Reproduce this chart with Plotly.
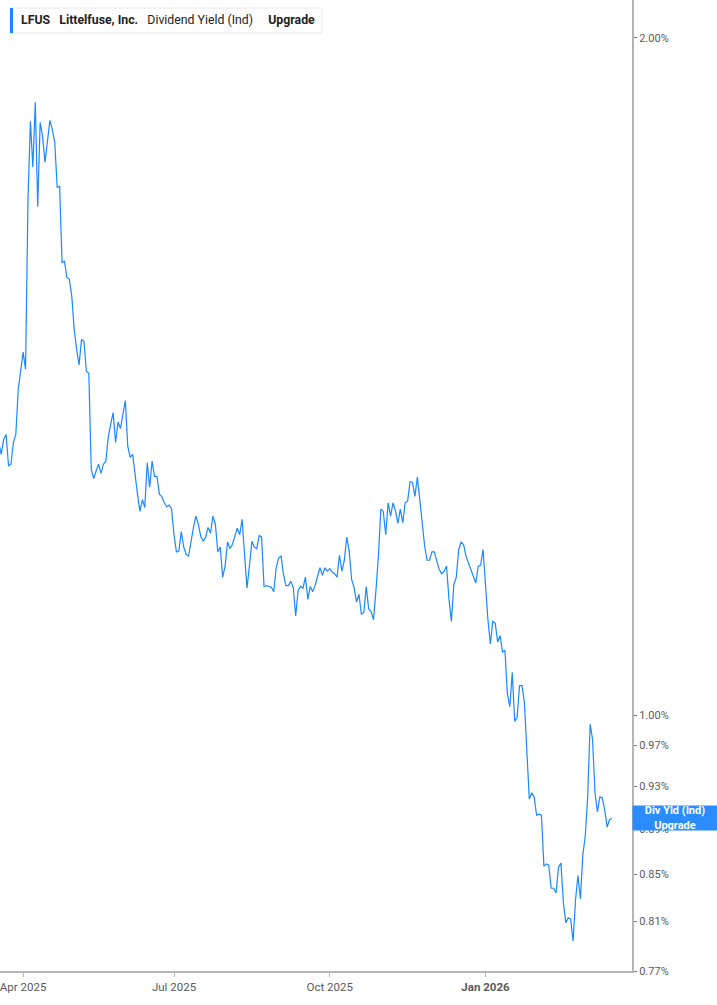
import pandas as pd
import numpy as np
import plotly.graph_objects as go

# ---- data -------------------------------------------------------------
START_DATE = "2025-03-18"
END_DATE = "2026-03-19"
HOLIDAYS = ["2025-04-18", "2025-05-26", "2025-06-19", "2025-07-04", "2025-09-01",
            "2025-11-27", "2025-12-25", "2026-01-01", "2026-01-19", "2026-02-16"]

# LFUS dividend yield (indicated), percent, one value per trading day
yield_pct = [
    # Mar 2025
    1.322, 1.306, 1.326, 1.333, 1.291, 1.293, 1.322, 1.333, 1.396, 1.425,
    # Apr 1 ->
    1.450, 1.425, 1.695, 1.836, 1.752, 1.872, 1.683, 1.834, 1.808, 1.761,
    1.803, 1.838, 1.821, 1.797, 1.716, 1.718, 1.589, 1.591, 1.565, 1.562,
    1.535, 1.484, 1.454, 1.431, 1.469, 1.466, 1.422, 1.419, 1.286, 1.274,
    1.284, 1.293, 1.281, 1.293, 1.297, 1.330, 1.347, 1.363, 1.322, 1.350,
    1.341, 1.361, 1.380, 1.317, 1.302, 1.306, 1.277, 1.254, 1.232, 1.247,
    1.237, 1.295, 1.263, 1.297, 1.277, 1.277, 1.254, 1.251, 1.243, 1.238,
    1.240, 1.235, 1.203,
    # Jul 2 ->
    1.182, 1.183, 1.207, 1.188, 1.179, 1.177, 1.197, 1.212, 1.226, 1.216,
    1.201, 1.195, 1.200, 1.212, 1.205, 1.226, 1.216, 1.182, 1.188, 1.152,
    1.165, 1.194, 1.186, 1.191, 1.201, 1.211, 1.203, 1.222, 1.179, 1.139,
    1.165, 1.195, 1.188, 1.186, 1.202, 1.200, 1.141, 1.142, 1.141, 1.140,
    1.135, 1.163, 1.175, 1.177, 1.155, 1.142, 1.142, 1.147, 1.140, 1.107,
    1.136, 1.141, 1.139, 1.152, 1.126, 1.141, 1.135, 1.142, 1.153, 1.163,
    1.154, 1.163, 1.159, 1.162,
    # Oct 2 ->
    1.158, 1.156, 1.152, 1.178, 1.159, 1.172, 1.200, 1.183, 1.149, 1.140,
    1.123, 1.132, 1.109, 1.111, 1.141, 1.115, 1.112, 1.103, 1.137, 1.177,
    1.235, 1.232, 1.203, 1.243, 1.226, 1.243, 1.233, 1.217, 1.235, 1.218,
    1.243, 1.245, 1.270, 1.269, 1.251, 1.276, 1.247, 1.218, 1.189, 1.172,
    1.172, 1.182, 1.182, 1.171, 1.161, 1.156, 1.159, 1.165, 1.126, 1.101,
    1.143, 1.152, 1.185, 1.194, 1.191, 1.177, 1.169, 1.159, 1.152, 1.145,
    1.165, 1.166, 1.185, 1.140,
    # Jan 5 2026 ->
    1.103, 1.076, 1.101, 1.099, 1.078, 1.085, 1.067, 1.069, 1.022, 1.009,
    1.045, 0.994, 0.998, 1.031, 1.031, 1.013, 0.961, 0.918, 0.924, 0.920,
    0.903, 0.904, 0.903, 0.857, 0.859, 0.858, 0.838, 0.838, 0.834, 0.856,
    0.860, 0.826, 0.809, 0.813, 0.812, 0.794, 0.828, 0.849, 0.829, 0.867,
    0.884, 0.920, 0.991, 0.976, 0.924, 0.906, 0.920, 0.919, 0.908, 0.892,
    0.899, 0.900,
]

TICK_DATES = ["2025-04-01", "2025-07-01", "2025-10-01", "2026-01-02"]
TICK_TEXT = ["Apr 2025", "Jul 2025", "Oct 2025", "<b>Jan 2026</b>"]
Y_TICKS = [0.77, 0.81, 0.85, 0.89, 0.93, 0.97, 1.00, 2.00]

dates = pd.bdate_range(START_DATE, END_DATE, freq="C", holidays=HOLIDAYS)
n = min(len(dates), len(yield_pct))
dates = dates[:n]
vals = yield_pct[:n]

LINE = "#1a88ff"
AXIS = "#b4b4b4"
TXT = "#5a5a5a"
FONT = "Roboto, Inter, sans-serif"

fig = go.Figure()
fig.add_trace(go.Scatter(
    x=dates, y=vals, mode="lines",
    line=dict(color=LINE, width=1.2),
    hoverinfo="x+y", showlegend=False,
))

fig.update_layout(
    width=717, height=1005,
    margin=dict(l=0, r=85, t=0, b=34),
    paper_bgcolor="white", plot_bgcolor="white",
    font=dict(family=FONT, size=11, color=TXT),
    showlegend=False,
)

fig.update_xaxes(
    type="date",
    range=["2025-03-18 12:00", "2026-03-31 05:00"],
    rangebreaks=[dict(bounds=["sat", "mon"]), dict(values=HOLIDAYS)],
    tickvals=TICK_DATES, ticktext=TICK_TEXT,
    ticks="outside", ticklen=4, tickcolor=AXIS, tickwidth=1,
    ticklabeloverflow="allow",
    showline=True, linecolor=AXIS, linewidth=2,
    showgrid=False, zeroline=False,
    tickfont=dict(size=11.5, color=TXT, family=FONT),
)

fig.update_yaxes(
    type="log", side="right",
    range=[np.log10(0.77), np.log10(2.0786)],
    tickvals=Y_TICKS, ticktext=[f"{v:.2f}%" for v in Y_TICKS],
    ticks="outside", ticklen=3, tickcolor="#777777", tickwidth=1,
    showline=True, linecolor=AXIS, linewidth=2,
    showgrid=False, zeroline=False,
    tickfont=dict(size=11, color=TXT, family=FONT),
)

# legend-like header box
fig.add_shape(
    type="rect", xref="paper", yref="paper",
    x0=10 / 632, x1=322 / 632, y0=1 - 33 / 971, y1=1 - 8 / 971,
    fillcolor="white", line=dict(color="#e6e6e6", width=1), layer="above",
)
fig.add_shape(
    type="rect", xref="paper", yref="paper",
    x0=10 / 632, x1=13 / 632, y0=1 - 33 / 971, y1=1 - 8 / 971,
    fillcolor=LINE, line=dict(width=0), layer="above",
)
fig.add_annotation(
    xref="paper", yref="paper", x=19 / 632, y=1 - 20.5 / 971,
    xanchor="left", yanchor="middle", showarrow=False, align="left",
    text="<b>LFUS</b>   <b>Littelfuse, Inc.</b>   Dividend Yield (Ind)     <b>Upgrade</b>",
    font=dict(size=12.3, color="#222222", family=FONT),
)

# last value tag
fig.add_annotation(
    xref="paper", yref="y", x=1.0, y=np.log10(vals[-1]),
    xanchor="left", yanchor="middle", showarrow=False, align="center",
    text="<b>Div Yld (Ind)</b><br><b>Upgrade</b>",
    font=dict(size=11, color="white", family=FONT),
    bgcolor="#2a8cff", width=84, height=24, borderpad=0,
)

fig.write_html("out.html",
               config={"displayModeBar": False},
               post_script="document.body.style.margin='0px';document.body.style.padding='0px';")
